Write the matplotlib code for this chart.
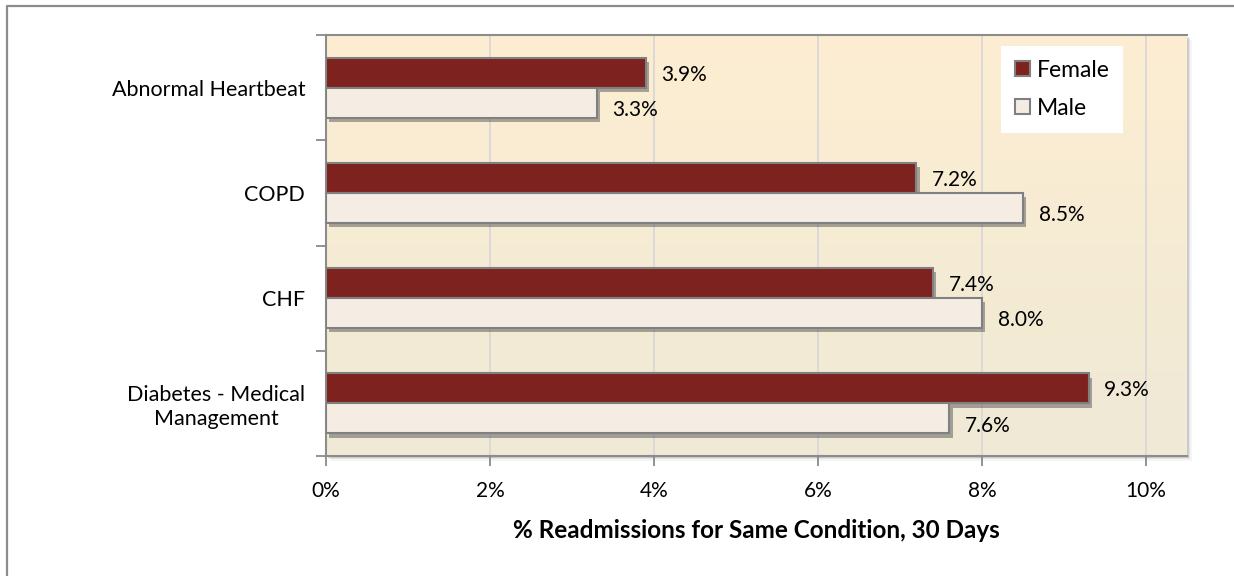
import matplotlib.pyplot as plt
import matplotlib.patheffects as pe
import numpy as np
from matplotlib.colors import LinearSegmentedColormap
from matplotlib.patches import Rectangle
from matplotlib.lines import Line2D

plt.rcParams['font.family'] = ['Lato', 'DejaVu Sans']

categories = ["Abnormal Heartbeat", "COPD", "CHF", "Diabetes - Medical\nManagement"]
female = [3.9, 7.2, 7.4, 9.3]
male = [3.3, 8.5, 8.0, 7.6]
xticks = [0, 2, 4, 6, 8, 10]

fig = plt.figure(figsize=(12.34, 5.76), dpi=100)

# outer border of the chart (only left and top are visible)
fig.add_artist(Line2D([6.5 / 1234, 6.5 / 1234, 1.0], [0.0, 1 - 5.5 / 576, 1 - 5.5 / 576],
                      transform=fig.transFigure, color="#8c8c8c", linewidth=1.6))

left, bottom, w, h = 326 / 1234, 1 - 456 / 576, 861 / 1234, 421 / 576

# shadow of plot area
for k, a in enumerate([0.10, 0.07, 0.04]):
    off = (k + 1) * 1.7
    fig.add_artist(Rectangle((left + off / 1234, bottom - off / 576), w, h, transform=fig.transFigure,
                             facecolor="black", alpha=a, edgecolor="none", zorder=0))

ax = fig.add_axes([left, bottom, w, h])

# gradient background
cmap = LinearSegmentedColormap.from_list("bg", ["#FDEED2", "#EFE9D6"])
ax.imshow(np.linspace(0, 1, 256).reshape(-1, 1), cmap=cmap, aspect="auto",
          extent=[0, 10.5, 3.5, -0.5], zorder=0)

y = np.arange(len(categories))
bh = 0.285
shadow = [pe.SimplePatchShadow(offset=(2.5, -3), shadow_rgbFace="#555555", alpha=0.5), pe.Normal()]

ax.barh(y - bh / 2, female, height=bh, color="#7E2220", edgecolor="#808080", linewidth=1.5,
        label="Female", zorder=3, path_effects=shadow)
ax.barh(y + bh / 2, male, height=bh, color="#F5EDE3", edgecolor="#808080", linewidth=1.5,
        label="Male", zorder=3, path_effects=shadow)

for i in range(len(categories)):
    ax.text(female[i] + 0.19, y[i] - bh / 2 + 0.02, f"{female[i]:.1f}%", va="center", ha="left",
            fontsize=15, zorder=4)
    ax.text(male[i] + 0.19, y[i] + bh / 2 + 0.07, f"{male[i]:.1f}%", va="center", ha="left",
            fontsize=15, zorder=4)

ax.set_xlim(0, 10.5)
ax.set_ylim(3.5, -0.5)
ax.set_xticks(xticks)
ax.set_xticklabels([f"{t}%" for t in xticks], fontsize=15)
ax.set_yticks(y)
ax.set_yticklabels(categories, fontsize=15.5, multialignment="center")
ax.set_yticks(np.arange(-0.5, 4, 1), minor=True)
ax.tick_params(axis="y", which="major", length=0, pad=15)
ax.tick_params(axis="y", which="minor", length=7, color="#808080", width=1.2)
ax.tick_params(axis="x", length=7, color="#808080", width=1.2, pad=11)
ax.grid(axis="x", color="#D6D6D6", linewidth=1.2, zorder=1)
ax.set_axisbelow(True)

for s in ["left", "bottom", "top"]:
    ax.spines[s].set_color("#8c8c8c")
    ax.spines[s].set_linewidth(1.5)
ax.spines["right"].set_visible(False)

ax.set_xlabel("% Readmissions for Same Condition, 30 Days", fontsize=17.5, fontweight="bold", labelpad=13)

leg = ax.legend(loc="upper left", bbox_to_anchor=(0.784, 0.974), fontsize=16.5, frameon=True,
                fancybox=False, borderaxespad=0, handlelength=0.65, handleheight=0.65,
                handletextpad=0.3, labelspacing=0.75, borderpad=0.6)
leg.get_frame().set_facecolor("white")
leg.get_frame().set_edgecolor("none")
leg.get_frame().set_alpha(1)
for hnd in leg.legend_handles:
    hnd.set_path_effects([])

fig.savefig("out.png", dpi=100)
